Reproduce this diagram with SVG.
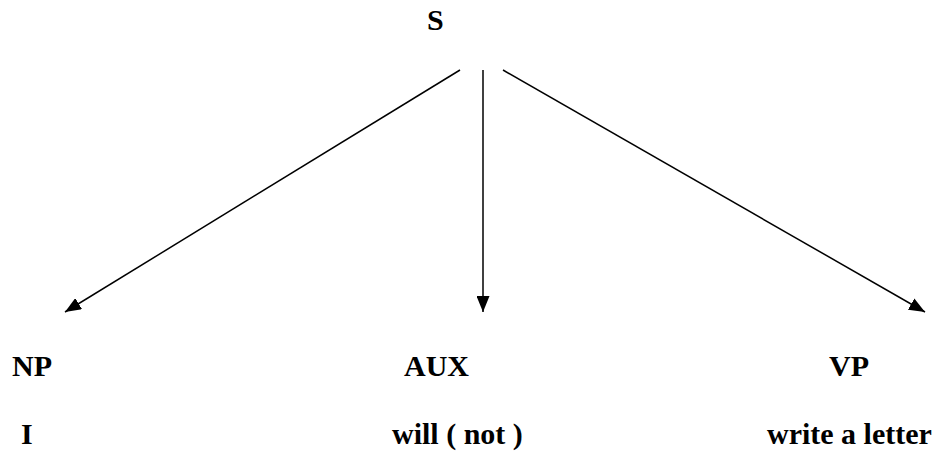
<svg xmlns="http://www.w3.org/2000/svg" width="936" height="452" viewBox="0 0 936 452">
<style>
text{font-family:"Liberation Serif","Times New Roman",serif;font-weight:bold;font-size:30px;fill:#000}
.c line{stroke:#000;stroke-width:1.5}
</style>
<defs>
<marker id="ah" viewBox="0 0 16 13" refX="16" refY="6.5" markerWidth="16" markerHeight="13" markerUnits="userSpaceOnUse" orient="auto"><path d="M0,0 L16,6.5 L0,13 z" fill="#000"/></marker>
</defs>
<rect width="936" height="452" fill="#fff"/>
<g id="S"><text x="427" y="30">S</text></g>
<g class="c" id="connectors">
<line x1="460" y1="70" x2="65" y2="312" marker-end="url(#ah)"/>
<line x1="483" y1="70" x2="483" y2="312" marker-end="url(#ah)"/>
<line x1="503" y1="70" x2="925" y2="312" marker-end="url(#ah)"/>
</g>
<g id="NP"><text x="12" y="376">NP</text></g>
<g id="AUX"><text x="404" y="376">AUX</text></g>
<g id="VP"><text x="829" y="376">VP</text></g>
<g id="I"><text x="21" y="444">I</text></g>
<g id="will"><text x="392" y="444">will ( not )</text></g>
<g id="write"><text x="767" y="444">write a letter</text></g>
</svg>
